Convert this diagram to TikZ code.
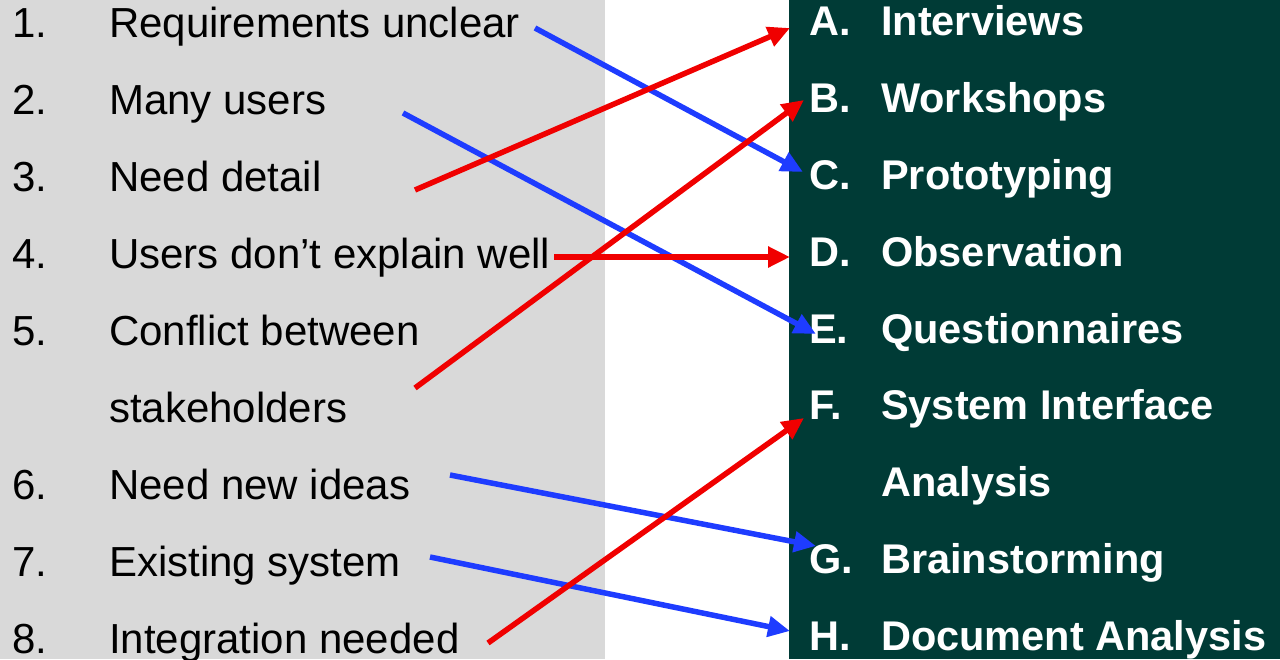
\documentclass[tikz,border=0pt]{standalone}
\usepackage{fontspec}
\setmainfont{Liberation Sans}
\usetikzlibrary{arrows.meta}
\definecolor{panelgray}{HTML}{D9D9D9}
\definecolor{panelgreen}{HTML}{003B36}
\definecolor{linkred}{HTML}{F00000}
\definecolor{linkblue}{HTML}{1E3CFF}
\tikzset{
  lefttxt/.style={anchor=base west,inner sep=0pt,text=black,font=\fontsize{42}{50}\selectfont},
  righttxt/.style={anchor=base west,inner sep=0pt,text=white,font=\fontsize{41.5}{50}\selectfont\bfseries},
  link/.style={line width=5.5pt,-{Triangle[length=22pt,width=20pt]}},
  redlink/.style={link,draw=linkred},
  bluelink/.style={link,draw=linkblue}
}
\begin{document}
\begin{tikzpicture}[x=1pt,y=-1pt]
\useasboundingbox (0,0) rectangle (1280,659);
\fill[panelgray] (0,0) rectangle (605,659);
\fill[panelgreen] (789,0) rectangle (1280,659);
% left list
\node[lefttxt] (n1) at (12,37) {1.};
\node[lefttxt] (t1) at (109,37) {Requirements unclear};
\node[lefttxt] (n2) at (12,114) {2.};
\node[lefttxt] (t2) at (109,114) {Many users};
\node[lefttxt] (n3) at (12,191) {3.};
\node[lefttxt] (t3) at (109,191) {Need detail};
\node[lefttxt] (n4) at (12,268) {4.};
\node[lefttxt] (t4) at (109,268) {Users don’t explain well};
\node[lefttxt] (n5) at (12,345) {5.};
\node[lefttxt] (t5) at (109,345) {Conflict between};
\node[lefttxt] (t5b) at (109,422) {stakeholders};
\node[lefttxt] (n6) at (12,499) {6.};
\node[lefttxt] (t6) at (109,499) {Need new ideas};
\node[lefttxt] (n7) at (12,576) {7.};
\node[lefttxt] (t7) at (109,576) {Existing system};
\node[lefttxt] (n8) at (12,653) {8.};
\node[lefttxt] (t8) at (109,653) {Integration needed};
% right list
\node[righttxt] (lA) at (809,35) {A.};
\node[righttxt] (rA) at (881,35) {Interviews};
\node[righttxt] (lB) at (809,112) {B.};
\node[righttxt] (rB) at (881,112) {Workshops};
\node[righttxt] (lC) at (809,189) {C.};
\node[righttxt] (rC) at (881,189) {Prototyping};
\node[righttxt] (lD) at (809,266) {D.};
\node[righttxt] (rD) at (881,266) {Observation};
\node[righttxt] (lE) at (809,343) {E.};
\node[righttxt] (rE) at (881,343) {Questionnaires};
\node[righttxt] (lF) at (809,419) {F.};
\node[righttxt] (rF) at (881,419) {System Interface};
\node[righttxt] (rFb) at (881,496) {Analysis};
\node[righttxt] (lG) at (809,573) {G.};
\node[righttxt] (rG) at (881,573) {Brainstorming};
\node[righttxt] (lH) at (809,650) {H.};
\node[righttxt] (rH) at (881,650) {Document Analysis};
% connector ends
\coordinate (s1) at (535,28);  \coordinate (eC) at (803,172);
\coordinate (s2) at (403,113); \coordinate (eE) at (816,334);
\coordinate (s3) at (415,190); \coordinate (eA) at (790,28);
\coordinate (s4) at (554,257); \coordinate (eD) at (790,257);
\coordinate (s5) at (415,388); \coordinate (eB) at (804,100);
\coordinate (s6) at (450,475); \coordinate (eG) at (816,546);
\coordinate (s7) at (430,557); \coordinate (eH) at (790,631);
\coordinate (s8) at (488,643); \coordinate (eF) at (804,418);
% connectors
\draw[bluelink] (s1) -- (eC);
\draw[bluelink] (s2) -- (eE);
\draw[redlink] (s3) -- (eA);
\draw[redlink] (s4) -- (eD);
\draw[redlink] (s5) -- (eB);
\draw[bluelink] (s6) -- (eG);
\draw[bluelink] (s7) -- (eH);
\draw[redlink] (s8) -- (eF);
\end{tikzpicture}
\end{document}
